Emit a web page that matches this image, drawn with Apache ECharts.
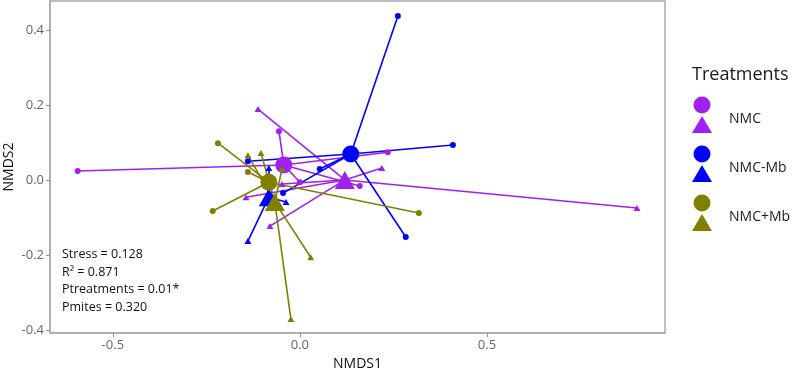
<!DOCTYPE html>
<html>
<head>
<meta charset="utf-8">
<script src="https://cdn.jsdelivr.net/npm/echarts@6/dist/echarts.min.js"></script>
<style>
  html, body { margin: 0; padding: 0; background: #fff; }
  #chart { width: 797px; height: 370px; }
</style>
</head>
<body>
<div id="chart"></div>
<script>
const treatments = ["NMC", "NMC-Mb", "NMC+Mb"];
const colors = ["#a020f0", "#0000ff", "#808000"];
const xTicks = [-0.5, 0, 0.5];
const yTicks = [-0.4, -0.2, 0, 0.2, 0.4];

// samples, circles and triangles per treatment
const nmcCircles = [[-0.594, 0.025], [-0.056, 0.131], [0.235, 0.075], [0.160, -0.015], [0.000, -0.005]];
const nmcTriangles = [[-0.112, 0.190], [0.901, -0.074], [0.219, 0.033], [-0.080, -0.122], [-0.144, -0.045], [-0.048, -0.010]];
const mbMinusCircles = [[0.262, 0.438], [0.409, 0.094], [0.283, -0.151], [-0.139, 0.051], [0.053, 0.030], [-0.045, -0.034]];
const mbMinusTriangles = [[-0.139, -0.162], [-0.083, 0.033], [-0.086, 0.001], [-0.037, -0.058]];
const mbPlusCircles = [[-0.219, 0.099], [-0.139, 0.022], [-0.233, -0.082], [0.318, -0.087]];
const mbPlusTriangles = [[-0.139, 0.067], [-0.104, 0.073], [-0.048, 0.030], [0.029, -0.205], [-0.024, -0.370]];

// group centroids
const centroidCircles = [[-0.043, 0.041], [0.136, 0.070], [-0.083, -0.005]];
const centroidTriangles = [[0.120, 0.001], [-0.083, -0.045], [-0.067, -0.058]];

const stats = ["Stress = 0.128", "R\u00b2 = 0.871", "Ptreatments = 0.01*", "Pmites = 0.320"];

const circles = [nmcCircles, mbMinusCircles, mbPlusCircles];
const triangles = [nmcTriangles, mbMinusTriangles, mbPlusTriangles];

const chart = echarts.init(document.getElementById("chart"));

const series = [];
treatments.forEach((name, i) => {
  const segs = [];
  circles[i].forEach(p => segs.push({coords: [centroidCircles[i], p]}));
  triangles[i].forEach(p => segs.push({coords: [centroidTriangles[i], p]}));
  series.push({
    type: "lines",
    coordinateSystem: "cartesian2d",
    silent: true,
    lineStyle: {color: colors[i], width: 1.6, opacity: 1},
    data: segs
  });
  series.push({
    type: "scatter", silent: true, symbol: "circle", symbolSize: 6,
    itemStyle: {color: colors[i], opacity: 1}, data: circles[i]
  });
  series.push({
    type: "scatter", silent: true, symbol: "triangle", symbolSize: [7, 6],
    itemStyle: {color: colors[i], opacity: 1}, data: triangles[i]
  });
  series.push({
    type: "scatter", silent: true, symbol: "circle", symbolSize: 17,
    itemStyle: {color: colors[i], opacity: 1}, data: [centroidCircles[i]]
  });
  series.push({
    type: "scatter", silent: true, symbol: "triangle", symbolSize: [20, 18],
    itemStyle: {color: colors[i], opacity: 1}, data: [centroidTriangles[i]]
  });
});

// legend drawn by hand: circle above triangle, label on the right
const legendY = [105, 154, 203];
const graphic = [{
  type: "text", left: 692, top: 66,
  style: {text: "Treatments", fill: "#1a1a1a", font: '18px "Open Sans"'}
}];
treatments.forEach((name, i) => {
  const y = legendY[i];
  graphic.push({type: "circle", shape: {cx: 702, cy: y, r: 8.5}, style: {fill: colors[i]}});
  graphic.push({type: "polygon", shape: {points: [[702, y + 11], [712, y + 28], [692, y + 28]]}, style: {fill: colors[i]}});
  graphic.push({
    type: "text", left: 729, top: y + 7,
    style: {text: name, fill: "#1a1a1a", font: '14px "Open Sans"'}
  });
});
stats.forEach((s, i) => {
  graphic.push({
    type: "text", left: 62, top: 248 + i * 17.5,
    style: {text: s, fill: "#111", font: '12.5px "Open Sans"'}
  });
});

const axisLine = {show: true, onZero: false, lineStyle: {color: "#aaa", width: 1.5}};

const option = {
  animation: false,
  grid: {
    left: 50, right: 132, top: 1, bottom: 37,
    containLabel: false, outerBoundsMode: "none",
    show: true, borderColor: "#aaa", borderWidth: 1.5
  },
  xAxis: {
    type: "value",
    min: -0.668, max: 0.976,
    name: "NMDS1", nameLocation: "middle", nameGap: 21,
    nameTextStyle: {color: "#111", fontSize: 14, fontFamily: "Open Sans"},
    axisLine: axisLine,
    splitLine: {show: false},
    axisTick: {show: true, length: 4, lineStyle: {color: "#999", width: 1.2}, customValues: xTicks},
    axisLabel: {
      customValues: xTicks, color: "#666", fontSize: 13, margin: 6, fontFamily: "Open Sans",
      formatter: v => v.toFixed(1)
    }
  },
  yAxis: {
    type: "value",
    min: -0.407, max: 0.478,
    name: "NMDS2", nameLocation: "middle", nameGap: 34, nameMoveOverlap: false,
    nameTextStyle: {color: "#111", fontSize: 14, fontFamily: "Open Sans"},
    axisLine: axisLine,
    splitLine: {show: false},
    axisTick: {show: true, length: 4, lineStyle: {color: "#999", width: 1.2}, customValues: yTicks},
    axisLabel: {
      customValues: yTicks, color: "#666", fontSize: 13, margin: 6, fontFamily: "Open Sans",
      formatter: v => v.toFixed(1)
    }
  },
  graphic: graphic,
  series: series
};

chart.setOption(option);
</script>
</body>
</html>
